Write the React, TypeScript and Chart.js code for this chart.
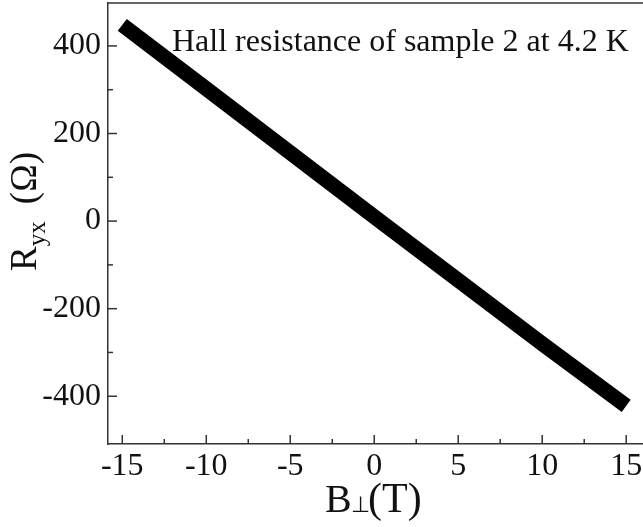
import React, { useEffect, useRef } from "react";
import { Chart, registerables } from "chart.js";

Chart.register(...registerables);

const fieldT = [-15, -10, -5, 0, 5, 10, 15];
const rYx = [448, 302, 156, 10, -135, -280, -422];
const xTicks = [-15, -10, -5, 0, 5, 10, 15];
const yTicks = [-400, -200, 0, 200, 400];
const xMinor = [-12.5, -7.5, -2.5, 2.5, 7.5, 12.5];
const yMinor = [-300, -100, 100, 300];
const annotationText = "Hall resistance of sample 2 at 4.2 K";

const SERIF = "'Liberation Serif', 'Times New Roman', serif";

const decorPlugin = {
  id: "decor",
  afterDraw(chart: any) {
    const { ctx, chartArea, scales } = chart;
    const xs = scales.x;
    const ys = scales.y;
    ctx.save();
    ctx.strokeStyle = "#333";
    ctx.lineWidth = 1.5;
    ctx.beginPath();
    ctx.moveTo(chartArea.left, chartArea.top);
    ctx.lineTo(chartArea.right, chartArea.top);
    ctx.stroke();
    const drawX = (v: number, len: number) => {
      const px = xs.getPixelForValue(v);
      ctx.beginPath();
      ctx.moveTo(px, chartArea.bottom);
      ctx.lineTo(px, chartArea.bottom - len);
      ctx.stroke();
    };
    const drawY = (v: number, len: number) => {
      const py = ys.getPixelForValue(v);
      ctx.beginPath();
      ctx.moveTo(chartArea.left, py);
      ctx.lineTo(chartArea.left + len, py);
      ctx.stroke();
    };
    xTicks.forEach((v) => drawX(v, 9));
    xMinor.forEach((v) => drawX(v, 5));
    yTicks.forEach((v) => drawY(v, 9));
    yMinor.forEach((v) => drawY(v, 5));

    ctx.fillStyle = "#111";
    ctx.font = `32px ${SERIF}`;
    ctx.textAlign = "left";
    ctx.textBaseline = "alphabetic";
    ctx.fillText(annotationText, 172, 51);

    // x title
    const by = 512;
    ctx.font = `40px ${SERIF}`;
    ctx.fillText("B", 325, by);
    const bw = ctx.measureText("B").width;
    ctx.font = `22px ${SERIF}`;
    ctx.fillText("\u22A5", 325 + bw - 1, by);
    ctx.font = `42px ${SERIF}`;
    ctx.fillText("(T)", 368, by);

    // y title rotated
    ctx.translate(36, 271);
    ctx.rotate(-Math.PI / 2);
    ctx.font = `37px ${SERIF}`;
    ctx.fillText("R", 0, 0);
    const rw = ctx.measureText("R").width;
    ctx.font = `25px ${SERIF}`;
    ctx.fillText("yx", rw, 9);
    ctx.font = `37px ${SERIF}`;
    const ow = ctx.measureText("(\u03A9)").width;
    ctx.fillText("(\u03A9)", 119 - ow, 0);
    ctx.restore();
  },
};

export default function App() {
  const ref = useRef<HTMLCanvasElement>(null);
  useEffect(() => {
    document.body.style.margin = "0";
    const chart = new Chart(ref.current!, {
      type: "line",
      data: {
        datasets: [
          {
            data: fieldT.map((x, i) => ({ x, y: rYx[i] })),
            borderColor: "#000",
            borderWidth: 15,
            borderCapStyle: "butt",
            pointRadius: 0,
            fill: false,
            tension: 0,
          },
        ],
      },
      options: {
        animation: false,
        responsive: false,
        layout: { padding: { top: 3, right: 0, left: 0, bottom: 0 } },
        plugins: { legend: { display: false }, tooltip: { enabled: false } },
        scales: {
          x: {
            type: "linear",
            min: -15.85,
            max: 16,
            afterBuildTicks: (s: any) => {
              s.ticks = xTicks.map((v) => ({ value: v }));
            },
            afterFit: (s: any) => {
              s.height = 83;
              s.paddingLeft = 0;
              s.paddingRight = 0;
            },
            grid: { display: false, drawTicks: false },
            border: { display: true, color: "#333", width: 1.5 },
            ticks: {
              color: "#111",
              font: { family: SERIF, size: 32 },
              padding: 3,
              maxRotation: 0,
              autoSkip: false,
            },
          },
          y: {
            type: "linear",
            min: -509,
            max: 498,
            afterBuildTicks: (s: any) => {
              s.ticks = yTicks.map((v) => ({ value: v }));
            },
            afterFit: (s: any) => {
              s.width = 108;
              s.paddingTop = 0;
              s.paddingBottom = 0;
            },
            grid: { display: false, drawTicks: false },
            border: { display: true, color: "#333", width: 1.5 },
            ticks: {
              color: "#111",
              font: { family: SERIF, size: 32 },
              padding: 7,
              autoSkip: false,
            },
          },
        },
      },
      plugins: [decorPlugin],
    });
    return () => chart.destroy();
  }, []);
  return (
    <div style={{ width: 643, height: 527 }}>
      <canvas ref={ref} width={643} height={527} style={{ display: "block" }} />
    </div>
  );
}
